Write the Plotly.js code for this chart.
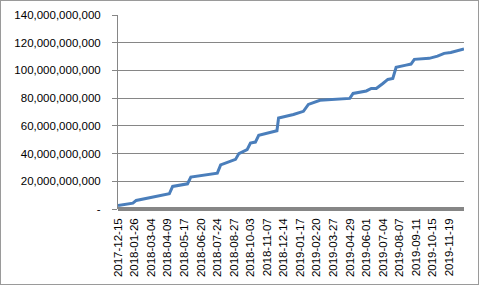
<!DOCTYPE html>
<html>
<head>
<meta charset="utf-8">
<script src="https://cdn.plot.ly/plotly-3.0.1.min.js"></script>
<style>
  html, body { margin: 0; padding: 0; background: #fff; }
  #wrap { position: relative; width: 481px; height: 289px; overflow: hidden; }
  #chart { position: absolute; left: 0; top: 0; width: 481px; height: 289px; }
  #frame { position: absolute; left: 0; top: 0; width: 477px; height: 283px; border: 1px solid #9a9a9a; pointer-events: none; }
</style>
</head>
<body>
<div id="wrap"><div id="chart"></div><div id="frame"></div></div>
<script>
// Point positions (category index, one label every 10 points) and cumulative values
const pointIndex = [0, 9, 11, 26, 31, 33, 42, 44, 55, 60, 62, 71, 73, 78, 80, 83, 85, 94, 96, 97,
                    106, 112, 115, 122, 139, 140, 142, 150, 153, 156, 160, 163, 166, 168, 174, 177, 179,
                    188, 193, 197, 201, 205, 209];
const values = [2.5e9, 4.2e9, 6.2e9, 9.8e9, 11.0e9, 16.3e9, 18.2e9, 23.0e9, 24.7e9, 25.9e9, 31.8e9,
                35.8e9, 40.0e9, 42.8e9, 47.6e9, 48.3e9, 53.2e9, 56.1e9, 56.5e9, 65.7e9,
                68.2e9, 70.5e9, 75.5e9, 78.5e9, 79.7e9, 79.8e9, 83.4e9, 85.2e9, 87.0e9, 87.0e9, 90.6e9,
                93.5e9, 94.2e9, 102.2e9, 103.8e9, 104.6e9, 108.0e9,
                108.7e9, 110.3e9, 112.3e9, 113.0e9, 114.0e9, 115.5e9];
const dateLabels = ["2017-12-15", "2018-01-26", "2018-03-04", "2018-04-09", "2018-05-17", "2018-06-20",
                    "2018-07-24", "2018-08-27", "2018-10-03", "2018-11-07", "2018-12-14", "2019-01-17",
                    "2019-02-20", "2019-03-27", "2019-04-29", "2019-06-01", "2019-07-04", "2019-08-07",
                    "2019-09-11", "2019-10-15", "2019-11-19"];
const labelIndex = dateLabels.map((d, i) => i * 10);
const yTickVals = [0, 20e9, 40e9, 60e9, 80e9, 100e9, 120e9, 140e9];
const yTickText = ["-", "20,000,000,000", "40,000,000,000", "60,000,000,000", "80,000,000,000",
                   "100,000,000,000", "120,000,000,000", "140,000,000,000"];

const trace = {
  x: pointIndex, y: values, type: 'scatter', mode: 'lines',
  line: { color: '#4a7ebb', width: 3 },
  hoverinfo: 'skip'
};

const layout = {
  width: 481, height: 289,
  margin: { l: 118, r: 17, t: 15, b: 80 },
  paper_bgcolor: '#ffffff', plot_bgcolor: '#ffffff',
  showlegend: false,
  font: { family: 'Liberation Sans, Arial, sans-serif', size: 11.5, color: '#000' },
  xaxis: {
    range: [0, 209],
    tickmode: 'array', tickvals: labelIndex, ticktext: dateLabels,
    tickangle: -90, ticks: '', showgrid: false, zeroline: false,
    showline: false, ticklabelstandoff: 6,
    tickfont: { size: 11.5, color: '#000' }
  },
  yaxis: {
    range: [0, 140e9],
    tickmode: 'array', tickvals: yTickVals, ticktext: yTickText,
    ticks: 'outside', ticklen: 5, tickcolor: '#868686', tickwidth: 1,
    showgrid: true, gridcolor: '#868686', gridwidth: 1,
    zeroline: true, zerolinecolor: '#868686', zerolinewidth: 4.5,
    showline: true, linecolor: '#868686', linewidth: 1,
    ticklabelstandoff: 9,
    tickfont: { size: 11.5, color: '#000' }
  }
};

Plotly.newPlot('chart', [trace], layout, { displayModeBar: false, staticPlot: true });
</script>
</body>
</html>
